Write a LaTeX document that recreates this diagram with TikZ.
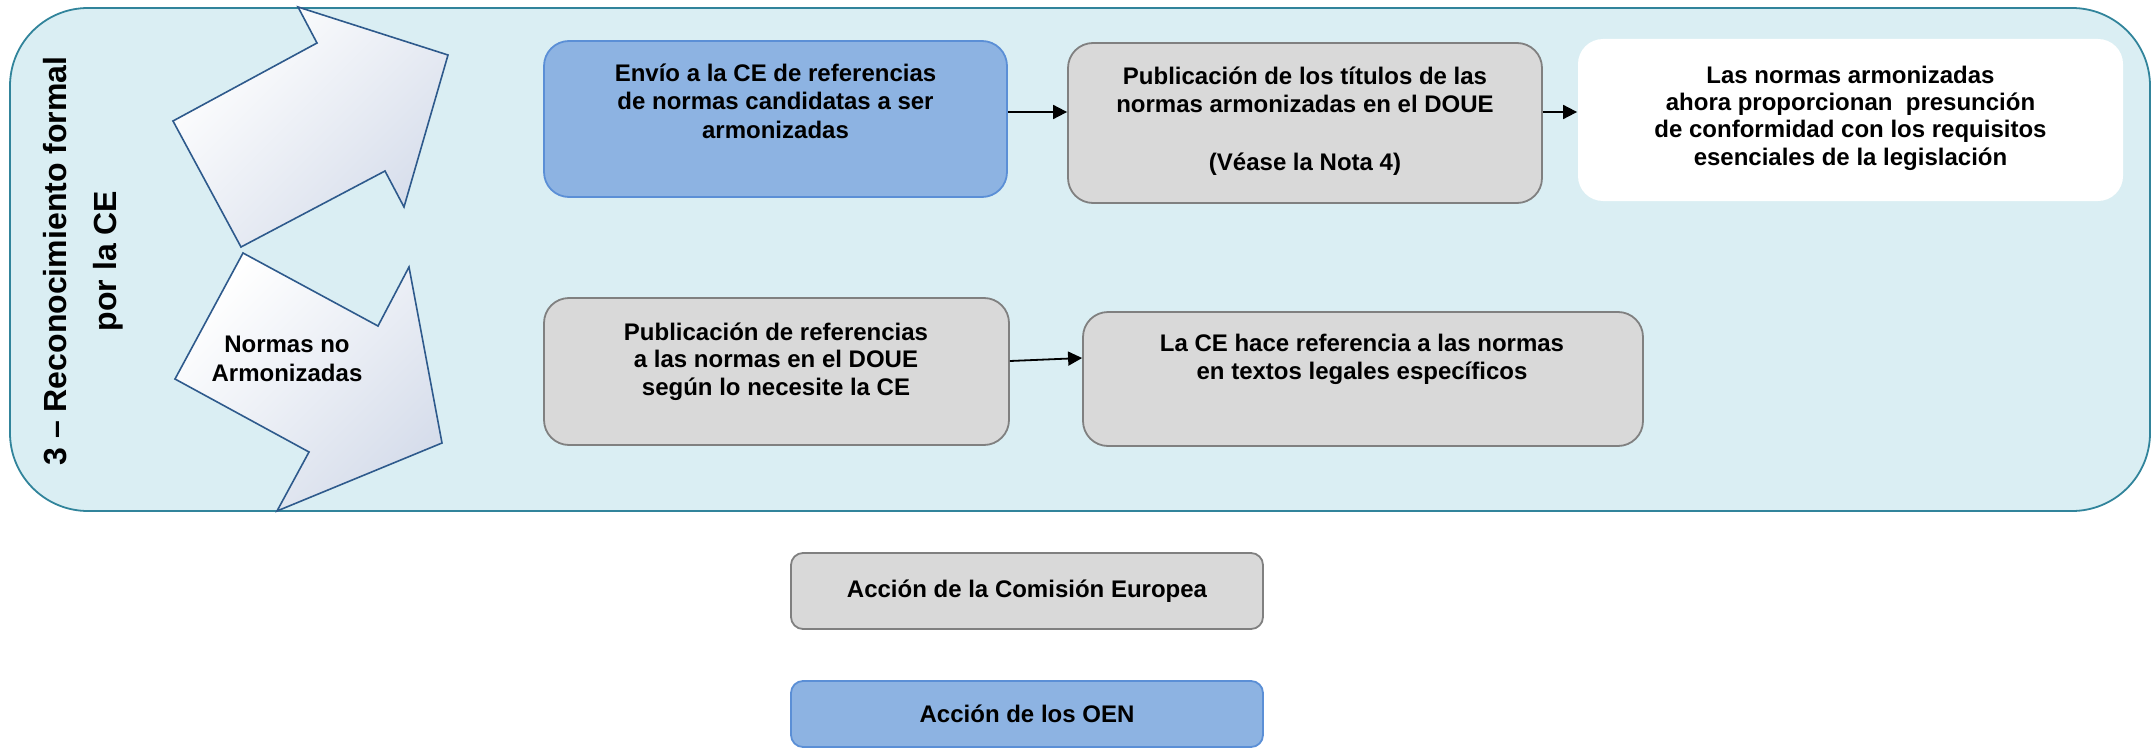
\documentclass[tikz,border=0pt]{standalone}
\usepackage{fontspec}
\setmainfont{Liberation Sans}
\usetikzlibrary{arrows.meta}
\definecolor{panelfill}{HTML}{DAEEF3}
\definecolor{panelline}{HTML}{31849B}
\definecolor{bluefill}{HTML}{8DB3E2}
\definecolor{blueline}{HTML}{5B8FD6}
\definecolor{greyfill}{HTML}{D9D9D9}
\definecolor{greyline}{HTML}{808080}
\definecolor{bigarrowline}{HTML}{2E5A8C}
\definecolor{bigarrowfill}{HTML}{D6DDEB}
\newcommand\st{\rule[-7pt]{0pt}{27pt}}
\newcommand\tst{\rule[-15pt]{0pt}{50pt}}
\begin{document}
\begin{tikzpicture}[x=1pt,y=-1pt,
  boxbase/.style={rounded corners=25pt, inner sep=0pt, line width=1.8pt},
  bluebox/.style={boxbase, fill=bluefill, draw=blueline},
  greybox/.style={boxbase, fill=greyfill, draw=greyline},
  whitebox/.style={boxbase, fill=white},
  legendbox/.style={rounded corners=12pt, inner sep=0pt, line width=1.8pt,
    minimum width=472pt, font=\fontsize{24}{28}\selectfont\bfseries},
  txt/.style={anchor=north, inner sep=0pt, align=center},
  conn/.style={line width=1.8pt, -{Triangle[length=14pt,width=14pt]}},
  bigarrow/.style={draw=bigarrowline, line width=1.6pt, line join=miter,
    top color=white, bottom color=bigarrowfill, shading angle=45}
]
\useasboundingbox (0,0) rectangle (2152,749);

% panel
\draw[fill=panelfill, draw=panelline, line width=1.8pt, rounded corners=78pt]
  (10,8) rectangle (2150,511);

% big arrows
\path[bigarrow] (298,7) -- (448,55) -- (404,207) -- (385,171) -- (241,247)
  -- (173,121) -- (317,43) -- cycle;
\path[bigarrow] (243,253) -- (378,326) -- (409,267) -- (442,443) -- (277,511)
  -- (309,452) -- (175,379) -- cycle;

% title
\node[inner sep=0pt, align=center, rotate=90,
  font=\fontsize{32}{50}\selectfont\bfseries] (title) at (81.7,261)
  {\tst 3 -- Reconocimiento formal\\ \tst por la CE};

\node[txt, font=\fontsize{24}{28.3}\selectfont\bfseries] (normas) at (287,332.7)
  {\st Normas no\\ \st Armonizadas};

% boxes
\node[bluebox, minimum width=463pt, minimum height=156pt] (b1) at (775.5,119) {};
\node[greybox, minimum width=474pt, minimum height=160pt] (g1) at (1305,123) {};
\node[whitebox, minimum width=545pt, minimum height=162pt] (w1) at (1850.5,120) {};
\node[greybox, minimum width=465pt, minimum height=147pt] (g2) at (776.5,371.5) {};
\node[greybox, minimum width=560pt, minimum height=134pt] (g3) at (1363,379) {};

\node[txt, font=\fontsize{24}{28.5}\selectfont\bfseries] (b1t) at (775.5,61)
  {\st Envío a la CE de referencias\\ \st de normas candidatas a ser\\ \st armonizadas};
\node[txt, font=\fontsize{24}{28.7}\selectfont\bfseries] (g1t) at (1305,64)
  {\st Publicación de los títulos de las\\ \st normas armonizadas en el DOUE\\ \st\\ \st (Véase la Nota 4)};
\node[txt, font=\fontsize{24}{27.3}\selectfont\bfseries] (w1t) at (1850.5,63)
  {\st Las normas armonizadas\\ \st ahora proporcionan\ \ presunción\\ \st de conformidad con los requisitos\\ \st esenciales de la legislación};
\node[txt, font=\fontsize{24}{27.5}\selectfont\bfseries] (g2t) at (776,320)
  {\st Publicación de referencias\\ \st a las normas en el DOUE\\ \st según lo necesite la CE};
\node[txt, font=\fontsize{24}{27.5}\selectfont\bfseries] (g3t) at (1362,331.7)
  {\st La CE hace referencia a las normas\\ \st en textos legales específicos};

% connectors
\draw[conn] ([yshift=7pt]b1.east) -- ([yshift=11pt]g1.west);
\draw[conn] ([yshift=11pt]g1.east) -- ([yshift=8pt]w1.west);
\draw[conn] ([yshift=10.5pt]g2.east) -- ([yshift=21pt]g3.west);

% legend
\node[legendbox, greybox, rounded corners=12pt, minimum height=76pt] (l1) at (1027,591)
  {Acción de la Comisión Europea};
\node[legendbox, bluebox, rounded corners=12pt, minimum height=66pt] (l2) at (1027,714)
  {Acción de los OEN};
\end{tikzpicture}
\end{document}
